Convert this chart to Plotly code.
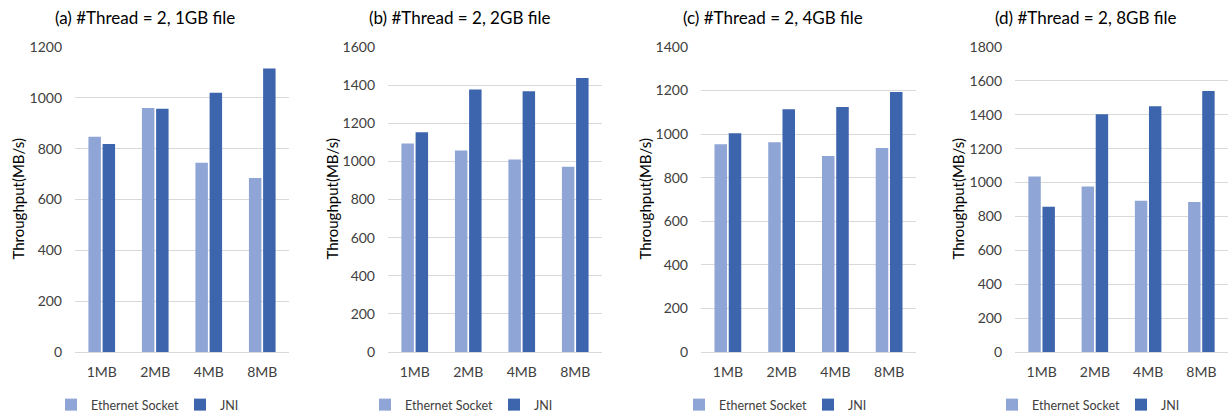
import plotly.graph_objects as go

categories = ["1MB", "2MB", "4MB", "8MB"]
titles = ["(a) #Thread = 2, 1GB file", "(b) #Thread = 2, 2GB file",
          "(c) #Thread = 2, 4GB file", "(d) #Thread = 2, 8GB file"]
eth_1gb = [847, 960, 745, 685]
jni_1gb = [818, 957, 1020, 1115]
eth_2gb = [1094, 1057, 1010, 972]
jni_2gb = [1153, 1377, 1368, 1438]
eth_4gb = [954, 963, 900, 936]
jni_4gb = [1004, 1114, 1125, 1194]
eth_8gb = [1036, 977, 893, 885]
jni_8gb = [857, 1403, 1450, 1541]
y_max = [1200, 1600, 1400, 1800]
y_step = [200, 200, 200, 200]

eth_sets = [eth_1gb, eth_2gb, eth_4gb, eth_8gb]
jni_sets = [jni_1gb, jni_2gb, jni_4gb, jni_8gb]

W, H = 1229, 418
FONT = "Lato, 'Open Sans', sans-serif"
ETH_C = "#8FA5D5"
JNI_C = "#3D65AD"
TXT = "#404040"

# plot area pixel bounds
x_px = [(75, 289), (388, 602), (701, 916), (1015, 1228)]
title_cx = [145, 459, 773, 1085]
legend_left = [69, 383, 697, 1010]
ytitle_x = [17, 331, 644, 957]
y_top, y_bot = 47, 352

fig = go.Figure()
layout = dict(
    width=W, height=H, margin=dict(l=0, r=0, t=0, b=0, autoexpand=False),
    paper_bgcolor="white", plot_bgcolor="white",
    barmode="group", bargap=0.47, bargroupgap=0.12,
    font=dict(family=FONT, color=TXT, size=14),
    annotations=[],
)

for i in range(4):
    xa = "x" if i == 0 else f"x{i+1}"
    ya = "y" if i == 0 else f"y{i+1}"
    lg = "legend" if i == 0 else f"legend{i+1}"
    fig.add_trace(go.Bar(x=categories, y=eth_sets[i], name="Ethernet Socket",
                         marker=dict(color=ETH_C, line=dict(width=0)),
                         xaxis=xa, yaxis=ya, legend=lg))
    fig.add_trace(go.Bar(x=categories, y=jni_sets[i], name="JNI",
                         marker=dict(color=JNI_C, line=dict(width=0)),
                         xaxis=xa, yaxis=ya, legend=lg))
    x0, x1 = x_px[i]
    xk = "xaxis" if i == 0 else f"xaxis{i+1}"
    yk = "yaxis" if i == 0 else f"yaxis{i+1}"
    layout[xk] = dict(domain=[x0 / W, x1 / W], anchor=ya, showgrid=False,
                      showline=False, ticks="", automargin=False,
                      ticklabelstandoff=10,
                      tickfont=dict(size=14, color=TXT), fixedrange=True)
    layout[yk] = dict(domain=[(H - y_bot) / H, (H - y_top) / H], anchor=xa,
                      range=[0, y_max[i]], dtick=y_step[i], showgrid=True,
                      gridcolor="#D9D9D9", gridwidth=1, zeroline=True,
                      zerolinecolor="#D9D9D9", zerolinewidth=1, showline=False,
                      ticks="", ticklabelstandoff=12, automargin=False,
                      tickfont=dict(size=14, color=TXT), fixedrange=True)
    layout[lg] = dict(orientation="h", x=(legend_left[i] - 18) / W, xanchor="left",
                      y=(H - 405) / H, yanchor="middle",
                      font=dict(size=12.5, color=TXT), bgcolor="rgba(0,0,0,0)",
                      entrywidth=84, entrywidthmode="pixels",
                      tracegroupgap=0, traceorder="normal")
    layout["annotations"].append(dict(
        text=titles[i], x=title_cx[i] / W, y=(H - 17) / H, xref="paper",
        yref="paper", xanchor="center", yanchor="middle", showarrow=False,
        font=dict(size=17, color="#000000", family=FONT)))
    layout["annotations"].append(dict(
        text="Throughput(MB/s)", x=ytitle_x[i] / W, y=(H - (y_top + y_bot) / 2) / H,
        xref="paper", yref="paper", xanchor="center", yanchor="middle",
        textangle=-90, showarrow=False,
        font=dict(size=15, color="#000000", family=FONT)))

fig.update_layout(**layout)
fig.write_html("out.html", config={"displayModeBar": False},
               post_script="document.body.style.margin='0';document.documentElement.style.overflow='hidden';")
